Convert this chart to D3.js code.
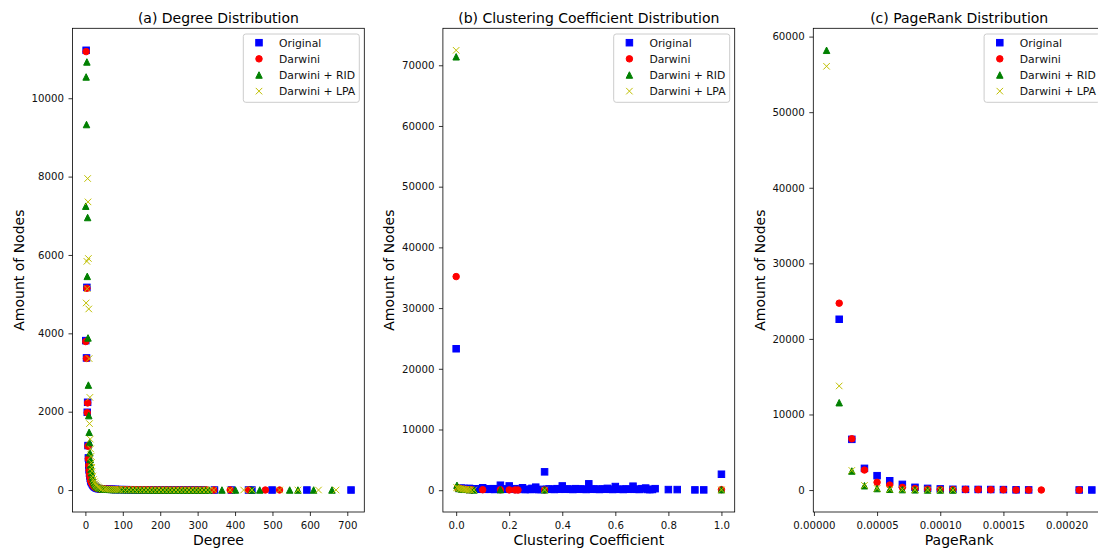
<!DOCTYPE html>
<html><head><meta charset="utf-8">
<script src="https://cdn.jsdelivr.net/npm/d3@7"></script>
<style>body{margin:0;background:#fff;} svg{display:block;font-family:"DejaVu Sans",sans-serif;}</style>
</head><body><svg id="chart" width="1098" height="551"></svg>
<script>
const seriesNames = ["Original", "Darwini", "Darwini + RID", "Darwini + LPA"];
const panelTitles = ["(a) Degree Distribution", "(b) Clustering Coefficient Distribution", "(c) PageRank Distribution"];
const xLabels = ["Degree", "Clustering Coefficient", "PageRank"];
const yLabel = "Amount of Nodes";

// (a) degree distribution: [degree, count]
const degreeOriginal = [[1,3814],[2,11224],[3,3372],[4,5173],[5,1985],[6,2240],[7,1135],[8,820],[9,640],[10,520],[11,430],[12,360],[13,300],[14,260],[15,225],[16,195],[18,160],[20,130],[22,105],[24,88],[26,74],[28,62],[30,52],[33,42],[36,35],[40,28],
  [45,30],[50,27],[55,24],[60,22],[65,20],[70,18],[75,17],[80,15],[85,14],[95,12],[105,11],[115,9],[125,8],[135,7],[145,6],[155,6],[165,5],[175,5],[185,4],[195,4],[205,3],[215,3],[225,3],[235,3],[245,2],[255,2],[265,2],[275,2],[285,2],[295,1],[305,1],[315,1],
  [345,1],[390,1],[436,1],[445,1],[499,1],[592,1],[710,1]];
const degreeDarwini = [[1,3790],[2,11190],[3,3360],[4,5150],[5,1975],[6,2225],[7,1120],[8,800],[9,630],[10,510],[11,420],[12,350],[13,295],[14,255],[15,220],[16,190],[18,155],[20,125],[22,100],[24,85],[26,70],[28,60],[30,50],[33,40],[36,33],[40,27],
  [48,28],[53,25],[58,22],[63,20],[68,18],[73,16],[78,15],[88,13],[98,11],[108,10],[118,9],[128,8],[138,7],[148,6],[158,5],[168,5],[178,4],[188,4],[198,3],[208,3],[218,3],[228,2],[238,2],[248,2],[258,2],[268,2],[278,1],[288,1],[298,1],[308,1],[318,1],
  [325,1],[343,1],[387,1],[436,1],[481,1],[519,1]];
const degreeRID = [[1,7245],[2,10543],[3,9329],[4,10926],[5,5454],[6,6956],[7,3883],[8,2679],[9,1900],[10,1474],[11,1212],[12,950],[13,780],[14,640],[15,530],[16,440],[18,340],[20,270],[22,210],[24,170],[26,135],[28,110],[30,90],[33,70],[36,55],[40,42],[45,30],
  [50,25],[55,22],[60,20],[65,18],[70,17],[75,15],[80,14],[90,12],[100,10],[110,9],[120,8],[130,7],[140,6],[150,5],[160,5],[170,4],[180,4],[190,3],[200,3],[210,3],[220,2],[230,2],[240,2],[250,2],[260,2],[270,1],[280,1],[290,1],[300,1],[310,1],[320,1],[330,1],
  [365,1],[401,1],[445,1],[466,1],[546,1],[568,1],[610,1],[659,1]];
const degreeLPA = [[2,4775],[4,5837],[5,5140],[6,7951],[7,7355],[8,5910],[9,4622],[10,3355],[11,1696],[12,2365],[13,1300],[14,1050],[15,860],[16,700],[17,580],[18,480],[20,360],[22,270],[24,210],[26,165],[28,130],[30,105],[33,80],[36,62],[40,46],[45,34],
  [52,26],[57,23],[62,21],[67,19],[72,17],[77,15],[82,14],[87,13],[92,12],[102,10],[112,9],[122,8],[132,7],[142,6],[152,5],[162,5],[172,4],[182,4],[192,3],[202,3],[212,3],[222,2],[232,2],[242,2],[252,2],[262,2],[272,1],[282,1],[292,1],[302,1],[312,1],[322,1],[332,1],
  [343,1],[387,1],[423,1],[445,1],[519,1],[568,1],[623,1],[670,1]];

// (b) clustering coefficient distribution: [coefficient, count]
const ccOriginal = [[0,23300],[0.01,300],[0.02,350],[0.025,200],[0.03,280],[0.04,250],[0.045,150],[0.05,300],[0.06,200],[0.065,180],[0.07,220],[0.08,180],[0.085,160],[0.09,150],[0.1,400],[0.105,150],[0.11,150],[0.12,200],[0.125,150],[0.13,150],[0.14,250],[0.145,120],[0.15,200],[0.16,180],[0.1667,820],[0.17,150],[0.18,200],[0.19,150],[0.2,700],[0.21,150],[0.22,250],[0.23,120],[0.24,180],[0.25,400],[0.26,100],[0.27,150],[0.28,120],[0.2857,300],[0.29,150],[0.3,500],[0.31,100],[0.32,120],[0.3333,3025],[0.34,150],[0.35,200],[0.36,150],[0.37,120],[0.38,250],[0.39,150],[0.4,700],[0.41,150],[0.42,200],[0.43,150],[0.44,120],[0.45,250],[0.46,150],[0.47,200],[0.48,150],[0.49,120],[0.5,1050],[0.51,150],[0.52,200],[0.53,150],[0.54,120],[0.55,200],[0.56,150],[0.57,300],[0.58,150],[0.59,120],[0.6,600],[0.61,150],[0.62,150],[0.63,120],[0.64,200],[0.65,150],[0.6667,660],[0.67,150],[0.68,150],[0.69,120],[0.7,250],[0.7143,350],[0.72,120],[0.73,100],[0.74,120],[0.75,250],[0.8,100],[0.8333,100],[0.9,50],[0.9333,50],[1.0,2630]];
const ccDarwini = [[0,35190],[0.005,400],[0.01,300],[0.015,250],[0.02,200],[0.03,150],[0.04,100],[0.05,80],[0.06,50],[0.1,80],[0.1667,60],[0.2,50],[0.222,40],[0.233,30],[0.3333,40],[1.0,90]];
const ccRID = [[0,71400],[0.003,800],[0.01,300],[0.02,200],[0.03,150],[0.05,80],[0.067,50],[0.1667,90],[0.3333,60],[1.0,80]];
const ccLPA = [[0,72470],[0.002,450],[0.005,350],[0.01,300],[0.015,250],[0.02,220],[0.025,180],[0.03,150],[0.035,120],[0.04,100],[0.045,80],[0.05,60],[0.055,50],[0.0667,40],[0.3333,50],[1.0,60]];

// (c) PageRank distribution: [pagerank, count]
const prOriginal = [[0.00002,22600],[0.00003,6710],[0.00004,2870],[0.00005,1900],[0.00006,1230],[0.00007,750],[0.00008,360],[0.00009,220],[0.0001,150],[0.00011,100],[0.00012,90],[0.00013,80],[0.00014,70],[0.00015,60],[0.00016,30],[0.00017,20],[0.00021,10],[0.00022,10]];
const prDarwini = [[0.00002,24730],[0.00003,6780],[0.00004,2650],[0.00005,1020],[0.00006,660],[0.00007,360],[0.00008,200],[0.00009,120],[0.0001,80],[0.00011,60],[0.00012,70],[0.00013,60],[0.00014,50],[0.00015,40],[0.00016,15],[0.00017,10],[0.00018,8],[0.00021,5]];
const prRID = [[0.00001,58190],[0.00002,11560],[0.00003,2520],[0.00004,570],[0.00005,200],[0.00006,100],[0.00007,60],[0.00008,30],[0.00009,15],[0.0001,10],[0.00011,5]];
const prLPA = [[0.00001,56070],[0.00002,13775],[0.00003,2600],[0.00004,620],[0.00005,220],[0.00006,110],[0.00007,70],[0.00008,35],[0.00009,20],[0.0001,12],[0.00011,6]];

// ticks
const degreeXTicks = [0,100,200,300,400,500,600,700];
const degreeYTicks = [0,2000,4000,6000,8000,10000];
const ccXTicks = [0,0.2,0.4,0.6,0.8,1.0];
const ccYTicks = [0,10000,20000,30000,40000,50000,60000,70000];
const prXTicks = [0,0.00005,0.0001,0.00015,0.0002];
const prYTicks = [0,10000,20000,30000,40000,50000,60000];

const colors = ["#0000ff", "#ff0000", "#008000", "#bfbf00"];
const shapes = ["square", "circle", "triangle", "x"];

const svg = d3.select("#chart");
const axTop = 28.3, axBottom = 512, axW = 291.8;
const lefts = [72.5, 442.9, 813.3];

const panels = [
  {data:[degreeOriginal,degreeDarwini,degreeRID,degreeLPA], xt:degreeXTicks, yt:degreeYTicks, xf:d3.format("d")},
  {data:[ccOriginal,ccDarwini,ccRID,ccLPA], xt:ccXTicks, yt:ccYTicks, xf:d3.format(".1f")},
  {data:[prOriginal,prDarwini,prRID,prLPA], xt:prXTicks, yt:prYTicks, xf:d3.format(".5f")}
];

function pad(ext){ const r = ext[1]-ext[0]; return [ext[0]-0.05*r, ext[1]+0.05*r]; }

const ms = 3.25; // half marker size
function drawMarker(g, shape, color, x, y){
  if(shape==="square"){
    g.append("rect").attr("x",x-ms).attr("y",y-ms).attr("width",2*ms).attr("height",2*ms)
     .attr("fill",color).attr("stroke",color).attr("stroke-width",1);
  } else if(shape==="circle"){
    g.append("circle").attr("cx",x).attr("cy",y).attr("r",ms).attr("fill",color).attr("stroke",color).attr("stroke-width",1);
  } else if(shape==="triangle"){
    g.append("path").attr("d",`M${x},${y-ms}L${x-ms},${y+ms}L${x+ms},${y+ms}Z`)
     .attr("fill",color).attr("stroke",color).attr("stroke-width",1);
  } else {
    g.append("path").attr("d",`M${x-ms},${y-ms}L${x+ms},${y+ms}M${x-ms},${y+ms}L${x+ms},${y-ms}`)
     .attr("fill","none").attr("stroke",color).attr("stroke-width",1);
  }
}

panels.forEach((p, i) => {
  const left = lefts[i], right = left + axW;
  const all = p.data.flat();
  const x = d3.scaleLinear().domain(pad(d3.extent(all, d=>d[0]))).range([left, right]);
  const y = d3.scaleLinear().domain(pad(d3.extent(all, d=>d[1]))).range([axBottom, axTop]);

  const clipId = "clip"+i;
  svg.append("clipPath").attr("id",clipId).append("rect")
    .attr("x",left).attr("y",axTop).attr("width",axW).attr("height",axBottom-axTop);

  const gm = svg.append("g").attr("clip-path",`url(#${clipId})`);
  p.data.forEach((series, s) => {
    series.forEach(d => drawMarker(gm, shapes[s], colors[s], x(d[0]), y(d[1])));
  });

  // axes
  const xa = svg.append("g").attr("transform",`translate(0,${axBottom})`)
    .call(d3.axisBottom(x).tickValues(p.xt).tickFormat(p.xf).tickSize(4).tickSizeOuter(0));
  xa.select(".domain").remove();
  xa.selectAll("text").attr("dy",null).attr("y",16.7).attr("font-size",10.2).attr("fill","#111").attr("font-family","DejaVu Sans");
  xa.selectAll("line").attr("stroke","#000").attr("stroke-width",0.8);

  const ya = svg.append("g").attr("transform",`translate(${left},0)`)
    .call(d3.axisLeft(y).tickValues(p.yt).tickFormat(d3.format("d")).tickSize(4).tickSizeOuter(0));
  ya.select(".domain").remove();
  ya.selectAll("text").attr("x",-8.5).attr("font-size",10.2).attr("fill","#111").attr("font-family","DejaVu Sans");
  ya.selectAll("line").attr("stroke","#000").attr("stroke-width",0.8);

  svg.append("rect").attr("x",left).attr("y",axTop).attr("width",axW).attr("height",axBottom-axTop)
    .attr("fill","none").attr("stroke","#000").attr("stroke-width",0.8);

  // title & labels
  svg.append("text").attr("x",left+axW/2).attr("y",22.6).attr("text-anchor","middle")
    .attr("font-size",14).attr("fill","#000").text(panelTitles[i]);
  svg.append("text").attr("x",left+axW/2).attr("y",545).attr("text-anchor","middle")
    .attr("font-size",14).attr("fill","#000").text(xLabels[i]);
  svg.append("text").attr("transform",`translate(${left-48.5},${(axTop+axBottom)/2}) rotate(-90)`)
    .attr("text-anchor","middle").attr("font-size",14).attr("fill","#000").text(yLabel);

  // legend
  const lx = right - 121, ly = 34;
  const lg = svg.append("g");
  lg.append("rect").attr("x",lx).attr("y",ly).attr("width",116).attr("height",68.3).attr("rx",2.5)
    .attr("fill","#fff").attr("fill-opacity",0.8).attr("stroke","#cccccc").attr("stroke-width",1);
  seriesNames.forEach((name, s) => {
    const cy = 42.7 + s*16.15;
    drawMarker(lg, shapes[s], colors[s], lx+15.7, cy);
    lg.append("text").attr("x",lx+35.7).attr("y",cy+3.9).attr("font-size",10.8).attr("fill","#111").text(name);
  });
});
</script>
</body></html>
